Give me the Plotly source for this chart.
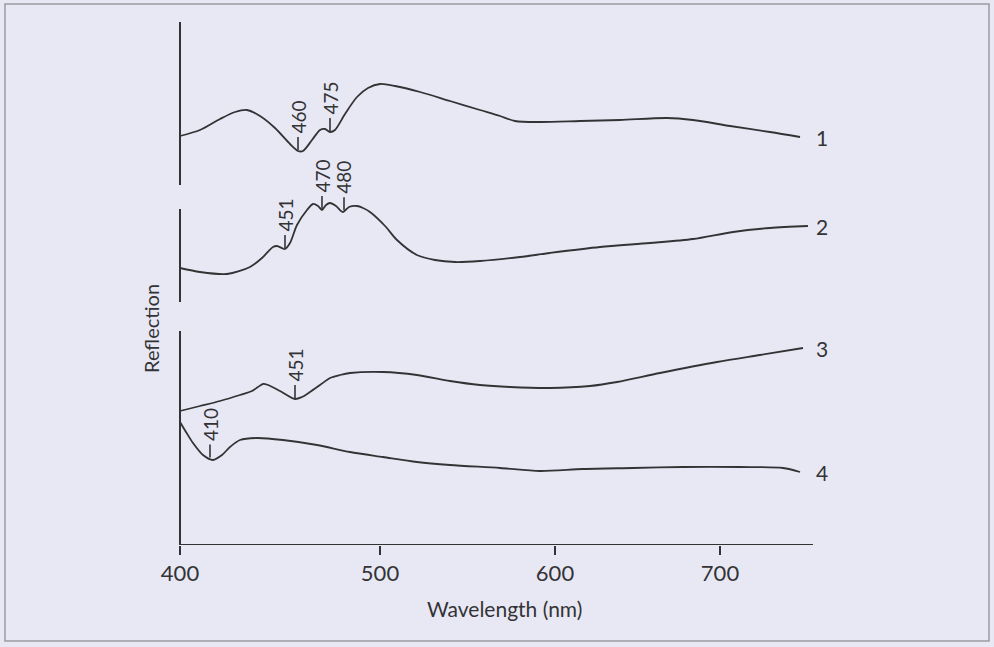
import numpy as np
import plotly.graph_objects as go

# ---------------- data ----------------
TICK_NM = [400, 500, 600, 700]
TICK_LABELS = ["400", "500", "600", "700"]
# the original hand-drawn wavelength axis has uneven tick spacing
TICK_POS = [0, 200, 375, 540]
TAIL_SLOPE = 1.65  # axis units per nm beyond 700 nm

# Reflection in relative (offset) units, curves stacked as in the figure
C1_NM = [400, 410, 420, 427.5, 433.5, 440, 447.5, 455, 459, 461.5, 466, 470, 472.5, 475,
         477.5, 482.5, 488.5, 494, 500, 508.6, 522.9, 540, 557.1, 568.6, 577.1, 591.4,
         615.2, 639.4, 667.9, 683.6, 706.1, 730.3, 748.5]
C1_R = [409, 415, 426, 433, 435, 429, 417, 401, 394, 394, 405, 415, 416, 413,
        415, 431, 448, 457, 461, 459, 453, 444, 435, 429, 424, 423,
        424, 425, 427, 425, 419, 413, 408]

C2_NM = [400, 410, 423.5, 435, 441, 446.5, 448.5, 452.5, 455, 458.5, 463.5, 466.5, 469,
         471, 473, 475, 478, 481.5, 484.5, 488.5, 491.5, 495, 502.9, 509.7, 521.1, 531.4,
         542.9, 557.1, 580, 597.1, 627.3, 657.6, 683.6, 707.9, 730.3, 753.3]
C2_R = [277, 273, 271, 278, 287, 298, 299, 296, 302, 320, 335, 341, 339,
        335, 340, 342, 339, 333, 338, 339, 337, 333, 319, 305, 290, 285,
        283, 284, 288, 292, 298, 302, 306, 313, 317, 319]

C3_NM = [400, 410, 420, 430, 436, 439, 441.5, 444, 450, 457.5, 461, 465, 470, 475, 480,
         485, 501.7, 521.1, 540, 557.1, 574.3, 597.1, 621.2, 637.6, 663.6, 698.2, 724.2, 750.3]
C3_R = [134, 139, 144, 150, 154, 158, 161, 160, 154, 146, 148, 153, 160, 167, 170,
        172, 173, 170, 164, 160, 158, 157, 159, 163, 172, 183, 190, 197]

C4_NM = [400, 403, 406.5, 411.5, 416.5, 421, 425, 430, 438.5, 451.5, 468.5, 485, 501.7,
         521.1, 540, 568.6, 591.4, 617, 647.3, 677.6, 712.1, 738.2, 748.5]
C4_R = [123, 113, 102, 90, 85, 90, 98, 105, 107, 105, 100, 93, 88,
        83, 80, 77, 74, 76, 77, 78, 78, 77, 73]

CURVE_NAMES = ["1", "2", "3", "4"]

# labelled features: (curve index, wavelength nm, label)
CALLOUT_CURVE = [0, 0, 1, 1, 1, 2, 3]
CALLOUT_NM = [459, 475, 452.5, 471, 482, 457.5, 415]
CALLOUT_LABEL = ["460", "475", "451", "470", "480", "451", "410"]

# vertical extents of the three y-axis segments (relative units)
PANEL_LO = [360, 243, 0]
PANEL_HI = [523, 336, 214]

# ---------------- helpers ----------------
def to_pos(nm):
    nm = np.asarray(nm, dtype=float)
    return np.where(nm <= TICK_NM[-1],
                    np.interp(nm, TICK_NM, TICK_POS),
                    TICK_POS[-1] + (nm - TICK_NM[-1]) * TAIL_SLOPE)

INK = "#333336"
BG = "#e8e8f4"
FONT = "Lato"

curves = [(C1_NM, C1_R), (C2_NM, C2_R), (C3_NM, C3_R), (C4_NM, C4_R)]

fig = go.Figure()
for (nm, r), name in zip(curves, CURVE_NAMES):
    fig.add_trace(go.Scatter(
        x=to_pos(nm), y=r, mode="lines", name=name,
        line=dict(color=INK, width=1.8, shape="spline", smoothing=0.8),
        showlegend=False, hoverinfo="skip"))

X_MAX = 633
L_MARGIN, R_MARGIN, T_MARGIN, B_MARGIN = 175, 181, 22, 102
W, H = 994, 647
plot_w = W - L_MARGIN - R_MARGIN
plot_h = H - T_MARGIN - B_MARGIN

shapes = []
# y-axis segments
for lo, hi in zip(PANEL_LO, PANEL_HI):
    shapes.append(dict(type="line", xref="x", yref="y", x0=0, x1=0, y0=lo, y1=hi,
                       line=dict(color=INK, width=2)))
# x-axis line
shapes.append(dict(type="line", xref="x", yref="y", x0=0, x1=X_MAX, y0=0, y1=0,
                   line=dict(color=INK, width=2)))

annotations = []
TICK_LEN = 13
for ci, nm, lab in zip(CALLOUT_CURVE, CALLOUT_NM, CALLOUT_LABEL):
    cnm, cr = curves[ci]
    y0 = float(np.interp(nm, cnm, cr)) + 1
    xp = float(to_pos(nm))
    shapes.append(dict(type="line", xref="x", yref="y", x0=xp, x1=xp, y0=y0, y1=y0 + TICK_LEN,
                       line=dict(color=INK, width=1.6)))
    annotations.append(dict(x=xp, y=y0 + TICK_LEN + 1, xref="x", yref="y", text=lab,
                            textangle=-90, showarrow=False, xanchor="center", yanchor="bottom",
                            font=dict(family=FONT, size=19, color=INK)))

# curve numbers at the right ends
for (nm, r), name in zip(curves, CURVE_NAMES):
    annotations.append(dict(x=(814 - L_MARGIN) / plot_w, xref="paper", y=r[-1], yref="y",
                            text=name, showarrow=False, xanchor="left", yanchor="middle",
                            font=dict(family=FONT, size=21, color=INK)))

# axis titles
annotations.append(dict(x=(504 - L_MARGIN) / plot_w, y=(545 - 608) / plot_h, xref="paper", yref="paper",
                        text="Wavelength (nm)", showarrow=False, xanchor="center", yanchor="middle",
                        font=dict(family=FONT, size=21, color=INK)))
annotations.append(dict(x=(151 - L_MARGIN) / plot_w, y=(545 - 329) / plot_h, xref="paper", yref="paper",
                        text="Reflection", textangle=-90, showarrow=False, xanchor="center", yanchor="middle",
                        font=dict(family=FONT, size=20, color=INK)))

# outer frame
shapes.append(dict(type="rect", xref="paper", yref="paper",
                   x0=(5 - L_MARGIN) / plot_w, x1=(989 - L_MARGIN) / plot_w,
                   y0=(545 - 641) / plot_h, y1=(545 - 4) / plot_h,
                   line=dict(color="#9a9aa2", width=1.5), layer="below"))

fig.update_layout(
    width=W, height=H,
    margin=dict(l=L_MARGIN, r=R_MARGIN, t=T_MARGIN, b=B_MARGIN, pad=0),
    paper_bgcolor=BG, plot_bgcolor=BG,
    shapes=shapes, annotations=annotations,
    xaxis=dict(range=[-5, X_MAX], tickmode="array", tickvals=TICK_POS, ticktext=TICK_LABELS,
               showgrid=False, zeroline=False, showline=False,
               ticks="outside", ticklen=9, tickwidth=1.6, tickcolor=INK,
               tickfont=dict(family=FONT, size=22, color=INK), fixedrange=True),
    yaxis=dict(range=[0, 523], visible=False, showgrid=False, zeroline=False, fixedrange=True),
)

fig.write_html("out.html")
